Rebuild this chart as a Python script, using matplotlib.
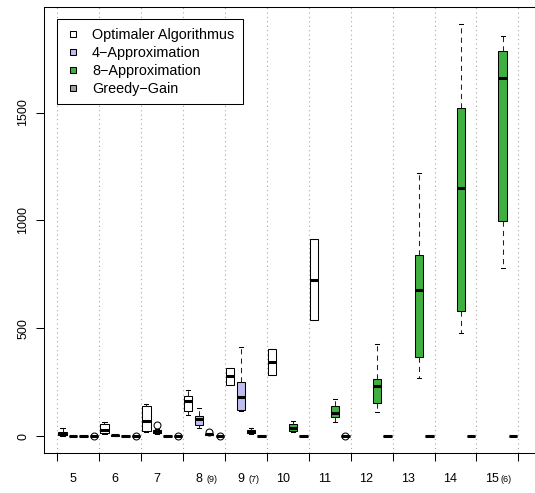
import matplotlib
matplotlib.use('Agg')
import matplotlib.pyplot as plt
from matplotlib.lines import Line2D

plt.rcParams['font.family'] = ['Liberation Sans', 'DejaVu Sans']

# Gruppen (Anzahl Knoten) und Zusatzangaben unter der Achse
group_labels = ['5', '6', '7', '8', '9', '10', '11', '12', '13', '14', '15']
group_notes = ['', '', '', '(9)', '(7)', '', '', '', '', '', '(6)']

# Kennwerte je Box: unterer Whisker, Q1, Median, Q3, oberer Whisker (None = keine Daten)
opt_stats = [(0, 5, 10, 20, 37), (12, 18, 32, 58, 68), (21, 26, 70, 142, 150),
             (100, 118, 165, 188, 216), (239, 239, 281, 316, 316), (285, 285, 343, 404, 404),
             (538, 538, 725, 913, 913), None, None, None, None]
approx4_stats = [(0, 0, 1, 2, 3), (2, 3, 5, 7, 9), (12, 16, 22, 28, 33),
                 (37, 52, 83, 95, 130), (116, 122, 185, 253, 415),
                 None, None, None, None, None, None]
approx8_stats = [(0, 0, 1, 2, 3), (0, 1, 2, 3, 4), (1, 2, 3, 4, 5), (6, 9, 11, 13, 15),
                 (10, 14, 20, 29, 37), (21, 26, 38, 57, 72), (65, 88, 108, 142, 173),
                 (114, 153, 234, 265, 427), (270, 366, 679, 841, 1219),
                 (481, 581, 1150, 1519, 1912), (782, 998, 1662, 1785, 1852)]
greedy_stats = [(0, 0, 0, 0, 0)] * 11

# Ausreisser
opt_fliers = [[]] * 11
approx4_fliers = [[], [], [52], [], [], [], [], [], [], [], []]
approx8_fliers = [[], [], [], [20], [], [], [], [], [], [], []]
greedy_fliers = [[1], [1], [1], [1], [], [], [1], [], [], [], []]

series = [
    ('Optimaler Algorithmus', opt_stats, opt_fliers, '#ffffff'),
    ('4\u2212Approximation', approx4_stats, approx4_fliers, '#bdbdef'),
    ('8\u2212Approximation', approx8_stats, approx8_fliers, '#3fb03f'),
    ('Greedy\u2212Gain', greedy_stats, greedy_fliers, '#a0a0a0'),
]

fig = plt.figure(figsize=(5.35, 4.93), dpi=100)
ax = fig.add_axes([44.3 / 535, 40 / 493, (540 - 44.3) / 535, 446 / 493])

for s_idx, (label, stats, fliers, color) in enumerate(series):
    bstats, pos = [], []
    for g, st in enumerate(stats):
        if st is None:
            continue
        lo, q1, med, q3, hi = st
        bstats.append(dict(whislo=lo, q1=q1, med=med, q3=q3, whishi=hi, fliers=fliers[g]))
        pos.append(4 * g + s_idx + 1)
    ax.bxp(bstats, positions=pos, widths=0.8, capwidths=0.4, patch_artist=True,
           manage_ticks=False,
           boxprops=dict(facecolor=color, edgecolor='black', linewidth=0.75),
           whiskerprops=dict(color='#222222', linewidth=0.75, linestyle=(0, (5, 4))),
           capprops=dict(color='black', linewidth=0.75),
           medianprops=dict(color='black', linewidth=2.2, solid_capstyle='butt'),
           flierprops=dict(marker='o', markerfacecolor='none', markeredgecolor='black',
                           markersize=5, markeredgewidth=0.75))

n = len(group_labels)
ax.set_xlim(-0.74, 46.56)
ax.set_ylim(-76.5, 1988.5)

bounds = [4 * k + 0.5 for k in range(n + 1)]
ax.set_xticks(bounds)
ax.set_xticklabels([''] * len(bounds))
for b in bounds:
    ax.axvline(b, color='#a8a8a8', linestyle=(0, (1, 3)), linewidth=0.8, zorder=0)

ax.set_yticks([0, 500, 1000, 1500])
ax.set_yticklabels(['0', '500', '1000', '1500'], rotation=90, va='center', fontsize=9)
ax.tick_params(axis='both', length=6, width=0.75, color='black')
ax.tick_params(axis='y', pad=5)

for g, (lab, note) in enumerate(zip(group_labels, group_notes)):
    x = 4 * g + 2
    ax.text(x, -0.064, lab, transform=ax.get_xaxis_transform(), ha='center',
            va='baseline', fontsize=9)
    if note:
        ax.text(x + 1.3, -0.064, note, transform=ax.get_xaxis_transform(), ha='center',
                va='baseline', fontsize=6.5)

for sp in ax.spines.values():
    sp.set_linewidth(0.75)

handles = [Line2D([], [], linestyle='none', marker='s', markersize=5,
                  markerfacecolor=c, markeredgecolor='black', markeredgewidth=0.75)
           for _, _, _, c in series]
leg = ax.legend(handles, [s[0] for s in series], loc='upper left',
                bbox_to_anchor=((56.7 - 44.3) / 495.7, (453 - 19.3) / 446),
                fontsize=10.4, frameon=True, fancybox=False, framealpha=1,
                edgecolor='black', borderaxespad=0, borderpad=0.6,
                handlelength=1.07, handletextpad=0.77, labelspacing=0.27)
leg.get_frame().set_linewidth(0.75)

fig.savefig('out.png', dpi=100)
